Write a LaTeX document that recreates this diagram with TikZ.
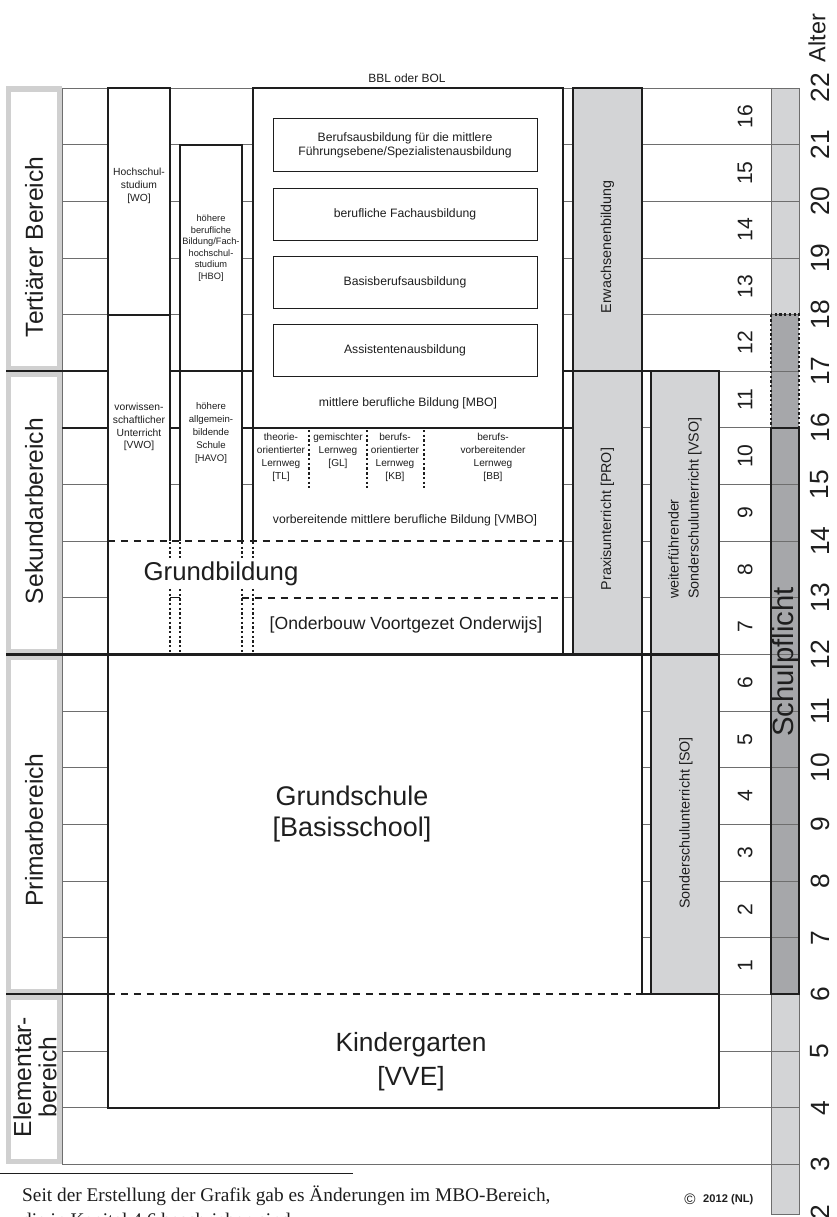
\documentclass[tikz,border=0pt]{standalone}
\usepackage{fontspec}
\setmainfont{Liberation Sans}
\newfontfamily\fnserif{Liberation Serif}
\definecolor{ink}{HTML}{1E1E1E}
\definecolor{gridc}{HTML}{6E6E6E}
\definecolor{lgray}{HTML}{D3D4D6}
\definecolor{mgray}{HTML}{A6A7AA}
\definecolor{framec}{HTML}{D0D0D0}
\tikzset{
 yl/.style={draw=gridc, line width=0.7pt},
 thk/.style={draw=ink, line width=1.8pt},
 thn/.style={draw=ink, line width=0.8pt},
 dsh/.style={draw=ink, line width=1.7pt, dash pattern=on 6pt off 5pt},
 dtt/.style={draw=ink, line width=2pt, dash pattern=on 2pt off 2pt},
 fs/.style 2 args={font=\fontsize{#1}{#2}\selectfont},
 txt/.style={inner sep=0pt, align=center, text=ink},
 rtxt/.style={txt, rotate=90},
}
\begin{document}
\begin{tikzpicture}[x=0.03cm,y=-0.03cm]
\clip (0,0) rectangle (836,1217);
\fill[white] (0,0) rectangle (836,1217);
% Schulpflicht bar fills
\fill[lgray] (771,88) rectangle (799,314.6);
\fill[mgray] (771,314.6) rectangle (799,994.4);
\fill[lgray] (771,994.4) rectangle (799,1214);
% year lines
\foreach \y in {88.0,144.7,201.3,258.0,314.6,371.3,427.9,484.6,541.2,597.9,654.5,711.2,767.8,824.5,881.1,937.8,994.4,1051.1,1107.7,1164.4}
  \draw[yl] (62,\y) -- (799,\y);
\draw[yl] (62,88) -- (62,1164.4);
\draw[yl] (771,88) -- (771,1214);
\draw[yl] (771,88) rectangle (799,314.6);
\draw[yl] (771,994.4) rectangle (799,1214);
% label frames
\fill[framec] (6,86) rectangle (62,371.3);
\fill[white] (11,92) rectangle (57,366);
\fill[framec] (6,371.3) rectangle (62,654.5);
\fill[white] (11,377) rectangle (57,649);
\fill[framec] (6,654.5) rectangle (62,994.4);
\fill[white] (11,660) rectangle (57,989);
\fill[framec] (6,994.4) rectangle (62,1164.4);
\fill[white] (11,1000) rectangle (57,1159);
% section lines
\draw[thk] (6,371.3) -- (108,371.3);
\draw[thk] (170,371.3) -- (253,371.3);
\draw[thk] (563,371.3) -- (719,371.3);
\draw[thk] (62,427.9) -- (108,427.9);
\draw[thk] (170,427.9) -- (180,427.9);
\draw[thk] (242,427.9) -- (253,427.9);
\draw[thk] (563,427.9) -- (573,427.9);
\draw[thk] (6,994.4) -- (108,994.4);
% box fills
\fill[white] (108,88) rectangle (170,541.2);
\fill[white] (180,144.7) rectangle (242,541.2);
\fill[white] (253,88) rectangle (563,541.2);
\fill[white] (108,541.2) rectangle (563,654.5);
\fill[lgray] (573,88) rectangle (642,654.5);
\fill[lgray] (651,371.3) rectangle (719,994.4);
\fill[white] (108,654.5) rectangle (642,994.4);
\fill[white] (108,994.4) rectangle (719,1107.7);
% box borders
\draw[thk] (108,88) rectangle (170,314.6);
\draw[thk] (108,314.6) -- (108,1107.7) -- (719,1107.7) -- (719,994.4);
\draw[thk] (170,314.6) -- (170,541.2);
\draw[thk] (180,144.7) rectangle (242,371.3);
\draw[thk] (180,371.3) -- (180,541.2);
\draw[thk] (242,371.3) -- (242,541.2);
\draw[thk] (253,88) rectangle (563,427.9);
\draw[thk] (253,427.9) -- (253,541.2);
\draw[thk] (563,427.9) -- (563,654.5);
\draw[thk] (573,88) rectangle (642,371.3);
\draw[thk] (573,371.3) rectangle (642,654.5);
\draw[thk] (651,371.3) rectangle (719,654.5);
\draw[thk] (651,654.5) rectangle (719,994.4);
\draw[thk] (642,654.5) -- (642,994.4) -- (651,994.4);
\draw[thk] (6,654.5) -- (651,654.5);
% dashed / dotted
\draw[dsh] (108,541.2) -- (563,541.2);
\draw[dsh] (242,597.9) -- (563,597.9);
\draw[dsh] (108,994.4) -- (642,994.4);
\foreach \x in {170,180,242,253} \draw[dtt] (\x,542) -- (\x,654);
\draw[thn] (170,597.9) -- (180,597.9);
\foreach \x in {309,367,424} \draw[dtt] (\x,430) -- (\x,488);
% MBO inner boxes
\draw[thn] (273,118) rectangle (537,171);
\draw[thn] (273,188) rectangle (537,240);
\draw[thn] (273,256) rectangle (537,308);
\draw[thn] (273,324) rectangle (537,376);
% Schulpflicht bar borders
\draw[thk] (771,427.9) rectangle (799,994.4);
\draw[dtt] (771,314.6) rectangle (799,427.9);
% footnote rule
\draw[draw=ink, line width=0.8pt] (0,1173) -- (353,1173);

% ---------- texts ----------
\node[rtxt, fs={21}{24}] (lter) at (34,247) {Tertiärer Bereich};
\node[rtxt, fs={21}{24}] (lsek) at (34,511) {Sekundarbereich};
\node[rtxt, fs={21}{24}] (lpri) at (34,830) {Primarbereich};
\node[rtxt, fs={21}{21.5}] (lele) at (35,1077) {Elementar-\\bereich};

\node[txt, fs={8.8}{11}, anchor=north] (wo) at (139,168) {Hochschul-\\studium\\{[WO]}};
\node[txt, fs={7.9}{9.8}, anchor=north] (hbo) at (211,215) {höhere\\berufliche\\Bildung/Fach-\\hochschul-\\studium\\{[HBO]}};
\node[txt, fs={8.8}{10.8}, anchor=north] (vwo) at (139,403) {vorwissen-\\schaftlicher\\Unterricht\\{[VWO]}};
\node[txt, fs={8.2}{11.2}, anchor=north] (havo) at (211,402) {höhere\\allgemein-\\bildende\\Schule\\{[HAVO]}};

\node[txt, fs={10.2}{12}] (bbl) at (407,78) {BBL oder BOL};
\node[txt, fs={10.4}{12.2}] (m1) at (405,145) {Berufsausbildung für die mittlere\\Führungsebene/Spezialistenausbildung};
\node[txt, fs={10.4}{12.2}] (m2) at (405,214) {berufliche Fachausbildung};
\node[txt, fs={10.4}{12.2}] (m3) at (405,282) {Basisberufsausbildung};
\node[txt, fs={10.4}{12.2}] (m4) at (405,350) {Assistentenausbildung};
\node[txt, fs={10.4}{12.2}] (mbo) at (408,403) {mittlere berufliche Bildung [MBO]};

\node[txt, fs={8.6}{11.2}, anchor=north] (tl) at (281,433) {theorie-\\orientierter\\Lernweg\\{[TL]}};
\node[txt, fs={8.6}{11.2}, anchor=north] (gl) at (338,433) {gemischter\\Lernweg\\{[GL]}};
\node[txt, fs={8.6}{11.2}, anchor=north] (kb) at (395,433) {berufs-\\orientierter\\Lernweg\\{[KB]}};
\node[txt, fs={8.6}{11.2}, anchor=north] (bb) at (493,433) {berufs-\\vorbereitender\\Lernweg\\{[BB]}};
\node[txt, fs={10.4}{12.2}] (vmbo) at (405,520) {vorbereitende mittlere berufliche Bildung [VMBO]};

\node[txt, fs={22}{26}, fill=white, inner sep=2pt] (gb) at (221,574) {Grundbildung};
\node[txt, fs={15}{18}] (ovo) at (406,625) {[Onderbouw Voortgezet Onderwijs]};

\node[txt, fs={23}{26.5}] (gs) at (352,814) {Grundschule\\{[Basisschool]}};
\node[txt, fs={22.5}{29}] (kg) at (411,1062) {Kindergarten\\{[VVE]}};

\node[rtxt, fs={12.2}{14}] (erw) at (607.5,247) {Erwachsenenbildung};
\node[rtxt, fs={12.2}{14}] (pro) at (607.5,519) {Praxisunterricht [PRO]};
\node[rtxt, fs={12.2}{17}, align=left] (vso) at (685,508) {weiterführender\\Sonderschulunterricht [VSO]};
\node[rtxt, fs={12.2}{14}] (so) at (686,823) {Sonderschulunterricht [SO]};

\node[rtxt, fs={25}{26}] (spf) at (786,662) {Schulpflicht};

\foreach \n/\y in {16/116.3,15/173.0,14/229.6,13/286.3,12/342.9,11/399.6,10/456.2,9/512.9,8/569.5,7/626.2,6/682.8,5/739.5,4/796.1,3/852.8,2/909.4,1/966.1}
  \node[rtxt, fs={18}{20}] (cls\n) at (745,\y) {\n};
\foreach \a/\y in {22/88.0,21/144.7,20/201.3,19/258.0,18/314.6,17/371.3,16/427.9,15/484.6,14/541.2,13/597.9,12/654.5,11/711.2,10/767.8,9/824.5,8/881.1,7/937.8,6/994.4,5/1051.1,4/1107.7,3/1164.4,2/1212.0}
  \node[rtxt, fs={22.5}{24}] (age\a) at (820,\y) {\a};
\node[rtxt, fs={20}{22}] (alter) at (817,38) {Alter};

\node[txt, font={\fnserif\fontsize{16.5}{22}\selectfont}, anchor=base west] (fn1) at (22,1201) {Seit der Erstellung der Grafik gab es Änderungen im MBO-Bereich,};
\node[txt, font={\fnserif\fontsize{16.5}{22}\selectfont}, anchor=base west] (fn2) at (22,1226) {die in Kapitel 4.6 beschrieben sind.};
\node[txt, fs={13}{14}] (copy) at (690,1199) {©};
\node[txt, font={\fontsize{9.5}{11}\selectfont\bfseries}, anchor=west] (yr) at (703,1200) {2012 (NL)};
\end{tikzpicture}
\end{document}
